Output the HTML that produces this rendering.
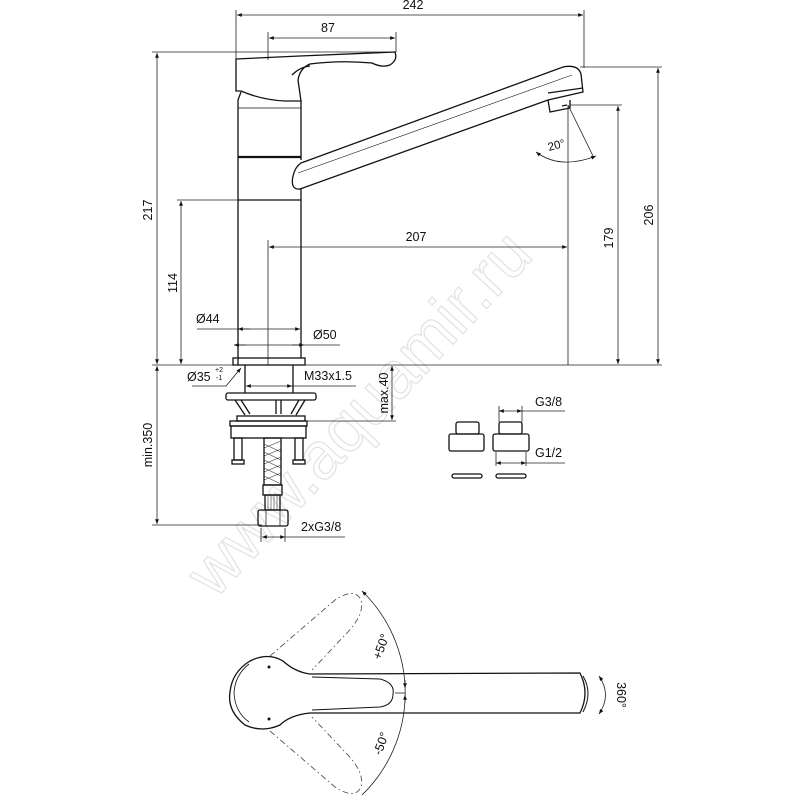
<!DOCTYPE html>
<html><head><meta charset="utf-8"><style>
html,body{margin:0;padding:0;background:#fff}
svg{display:block}
text{font-family:"Liberation Sans",Arial,sans-serif;font-size:12.5px;fill:#111}
</style></head><body>
<svg width="800" height="800" viewBox="0 0 800 800" xmlns="http://www.w3.org/2000/svg">
<defs>
<marker id="a" viewBox="0 0 10 10" refX="10" refY="5" markerWidth="8" markerHeight="6" orient="auto-start-reverse"><path d="M0,1 L10,5 L0,9 z" fill="#111"/></marker>
</defs>
<text x="215" y="600" transform="rotate(-47 215 600)" style="font-size:66px;fill:none;stroke:#e4e4e4;stroke-width:1.3">www.aquamir.ru</text>
<g stroke="#222" stroke-width="0.8" fill="none">
<line x1="236" y1="10" x2="236" y2="60"/><line x1="584" y1="10" x2="584" y2="68"/>
<line x1="237" y1="15" x2="583" y2="15" marker-start="url(#a)" marker-end="url(#a)"/>
<line x1="268" y1="32" x2="268" y2="60"/><line x1="396" y1="32" x2="396" y2="52"/>
<line x1="269" y1="38" x2="395" y2="38" marker-start="url(#a)" marker-end="url(#a)"/>
<line x1="152" y1="52" x2="396" y2="52"/>
<line x1="157" y1="53" x2="157" y2="364" marker-start="url(#a)" marker-end="url(#a)"/>
<line x1="177" y1="200" x2="238" y2="200"/>
<line x1="181" y1="201" x2="181" y2="364" marker-start="url(#a)" marker-end="url(#a)"/>
<line x1="580" y1="67" x2="662" y2="67"/>
<line x1="658" y1="68" x2="658" y2="364" marker-start="url(#a)" marker-end="url(#a)"/>
<line x1="570" y1="105" x2="622" y2="105"/>
<line x1="618" y1="106" x2="618" y2="364" marker-start="url(#a)" marker-end="url(#a)"/>
<line x1="568" y1="105" x2="568" y2="365"/>
<line x1="568" y1="105" x2="594" y2="158"/>
<path d="M536,152 Q560,170 596,156" marker-start="url(#a)" marker-end="url(#a)"/>
<line x1="269" y1="247" x2="567" y2="247" marker-start="url(#a)" marker-end="url(#a)"/>
<line x1="268" y1="240" x2="268" y2="365"/>
<line x1="197" y1="329" x2="300" y2="329" marker-end="url(#a)"/>
<line x1="238" y1="329" x2="250" y2="329" marker-start="url(#a)"/>
<line x1="234" y1="345" x2="340" y2="345"/>
<line x1="234" y1="345" x2="246" y2="345" marker-start="url(#a)"/>
<line x1="292" y1="345" x2="304" y2="345" marker-end="url(#a)"/>
<line x1="152" y1="365" x2="662" y2="365"/>
<line x1="157" y1="366" x2="157" y2="524" marker-start="url(#a)" marker-end="url(#a)"/>
<line x1="152" y1="525" x2="262" y2="525"/>
<line x1="392" y1="366" x2="392" y2="420" marker-start="url(#a)" marker-end="url(#a)"/>
<line x1="305" y1="421" x2="396" y2="421"/>
<line x1="246" y1="386" x2="292" y2="386" marker-start="url(#a)" marker-end="url(#a)"/>
<line x1="292" y1="386" x2="356" y2="386"/>
<path d="M192,386 L226,386 L241,368" marker-end="url(#a)"/>
<line x1="262" y1="537" x2="285" y2="537" marker-start="url(#a)" marker-end="url(#a)"/>
<line x1="285" y1="537" x2="345" y2="537"/>
<line x1="261" y1="528" x2="261" y2="542"/><line x1="285" y1="528" x2="285" y2="542"/>
<line x1="499" y1="411" x2="522" y2="411" marker-start="url(#a)" marker-end="url(#a)"/>
<line x1="522" y1="411" x2="565" y2="411"/>
<line x1="499" y1="406" x2="499" y2="422"/><line x1="522" y1="406" x2="522" y2="422"/>
<line x1="496" y1="463" x2="526" y2="463" marker-start="url(#a)" marker-end="url(#a)"/>
<line x1="526" y1="463" x2="565" y2="463"/>
<line x1="496" y1="452" x2="496" y2="466"/><line x1="526" y1="452" x2="526" y2="466"/>
</g>
<g stroke="#111" stroke-width="1.3" fill="none">
<path d="M236,59 L300,56 L395,52 Q398,60 390,65 Q382,68 372,63 Q340,60 310,64 Q300,68 298,80 L301,101 L285,101 Q262,100 241,91 L236,91 Z"/>
<path d="M292,75 Q300,67 310,66"/>
<path d="M241,92 L238,100 L238,365 M301,101 L301,160"/>
<line x1="238" y1="108" x2="301" y2="108" stroke-width="0.7"/>
<line x1="238" y1="157" x2="301" y2="157" stroke-width="2.2"/>
<line x1="238" y1="200" x2="301" y2="200"/>
<line x1="301" y1="188" x2="301" y2="358"/>
<path d="M301,163 L563,67 Q578,64 581,74 L583,92 L548,100 L300,189 Q290,190 293,176 Q295,167 301,163 Z"/>
<path d="M298,173 L572,75" stroke-width="0.6"/>
<path d="M548,93 L583,88 M548,100 L550,112 L570,108 L570,100 M562,106 L567,105"/>
<rect x="233" y="358" width="72" height="7"/>
<path d="M245,365 L245,393 M293,365 L293,393"/>
<rect x="226" y="393" width="90" height="7" rx="2"/>
<path d="M235,400 L245,415 M305,400 L296,415 M241,400 L250,414 M299,400 L291,414 M276,400 L276,414 M281,400 L281,414"/>
<rect x="237" y="416" width="68" height="5"/>
<rect x="230" y="421" width="77" height="5"/>
<rect x="231" y="426" width="75" height="12"/>
<rect x="234" y="438" width="8" height="22"/><rect x="232" y="460" width="12" height="4"/>
<rect x="295" y="438" width="8" height="22"/><rect x="293" y="460" width="12" height="4"/>
<rect x="264" y="438" width="17" height="47"/>
<path d="M264,448 L281,441 M264,456 L281,449 M264,464 L281,457 M264,472 L281,465 M264,480 L281,473 M264,444 L281,452 M264,452 L281,460 M264,460 L281,468 M264,468 L281,476 M264,476 L281,484" stroke-width="0.5"/>
<rect x="263" y="485" width="19" height="10"/>
<rect x="265" y="495" width="15" height="15"/>
<path d="M268,495 V510 M271,495 V510 M274,495 V510 M277,495 V510" stroke-width="0.5"/>
<rect x="258" y="510" width="30" height="16" rx="2"/>
<path d="M266,510 V526 M280,510 V526" stroke-width="0.7"/>
<rect x="456" y="422" width="23" height="12" rx="2"/><rect x="449" y="434" width="35" height="17" rx="2"/>
<rect x="499" y="422" width="23" height="12" rx="2"/><rect x="493" y="434" width="36" height="17" rx="2"/>
<rect x="452" y="474" width="30" height="4" rx="2"/><rect x="496" y="474" width="30" height="4" rx="2"/>
<path d="M310,674 L580,673 Q590,693 580,713 L310,713 Q290,715 280,725 Q262,733 245,725 Q227,711 230,692 Q232,672 250,661 Q268,652 283,661 Q295,672 310,674 Z"/>
<path d="M312,677 L380,679 Q395,683 393,694 Q393,705 380,707 L312,710" stroke-width="1"/>
<path d="M583,676 Q593,693 583,712" stroke-width="1"/>
<path d="M249,664 Q235,675 234,693 Q235,712 249,722" stroke-width="0.8"/>
</g>
<g stroke="#555" stroke-width="0.9" fill="none" stroke-dasharray="6,3,1.5,3">
<path d="M270,656 L335,600 Q355,587 361,600 Q365,615 345,635 L312,670"/>
<path d="M270,731 L335,787 Q355,800 361,787 Q365,772 345,752 L312,717"/>
</g>
<g stroke="#222" stroke-width="0.8" fill="none">
<path d="M362,591 A142,142 0 0 1 362,795" marker-start="url(#a)"/>
<line x1="405" y1="680" x2="405" y2="688" marker-end="url(#a)"/>
<line x1="405" y1="703" x2="405" y2="695" marker-end="url(#a)"/>
<line x1="395" y1="693" x2="405" y2="693"/>
<path d="M599,676 Q612,695 599,714" marker-start="url(#a)" marker-end="url(#a)"/>
</g>
<circle cx="269" cy="667" r="1.5" fill="#111"/><circle cx="269" cy="719" r="1.5" fill="#111"/>
<text x="413" y="9" text-anchor="middle">242</text>
<text x="328" y="32" text-anchor="middle">87</text>
<text x="152" y="210" text-anchor="middle" transform="rotate(-90 152 210)">217</text>
<text x="177" y="283" text-anchor="middle" transform="rotate(-90 177 283)">114</text>
<text x="653" y="215" text-anchor="middle" transform="rotate(-90 653 215)">206</text>
<text x="613" y="238" text-anchor="middle" transform="rotate(-90 613 238)">179</text>
<text x="416" y="241" text-anchor="middle">207</text>
<text x="549" y="151" transform="rotate(-15 549 151)" style="font-size:11.5px">20°</text>
<text x="196" y="323">Ø44</text>
<text x="313" y="339">Ø50</text>
<text x="187" y="381">Ø35</text><text x="215" y="372" style="font-size:7px">+2</text><text x="216" y="380" style="font-size:7px">-1</text>
<text x="304" y="380">M33x1.5</text>
<text x="388" y="393" text-anchor="middle" transform="rotate(-90 388 393)">max.40</text>
<text x="152" y="445" text-anchor="middle" transform="rotate(-90 152 445)">min.350</text>
<text x="301" y="531">2xG3/8</text>
<text x="535" y="406">G3/8</text>
<text x="535" y="457">G1/2</text>
<text x="385" y="648" text-anchor="middle" transform="rotate(-70 385 648)">+50°</text>
<text x="385" y="745" text-anchor="middle" transform="rotate(-70 385 745)">-50°</text>
<text x="617" y="695" text-anchor="middle" transform="rotate(90 617 695)">360°</text>
</svg>
</body></html>
